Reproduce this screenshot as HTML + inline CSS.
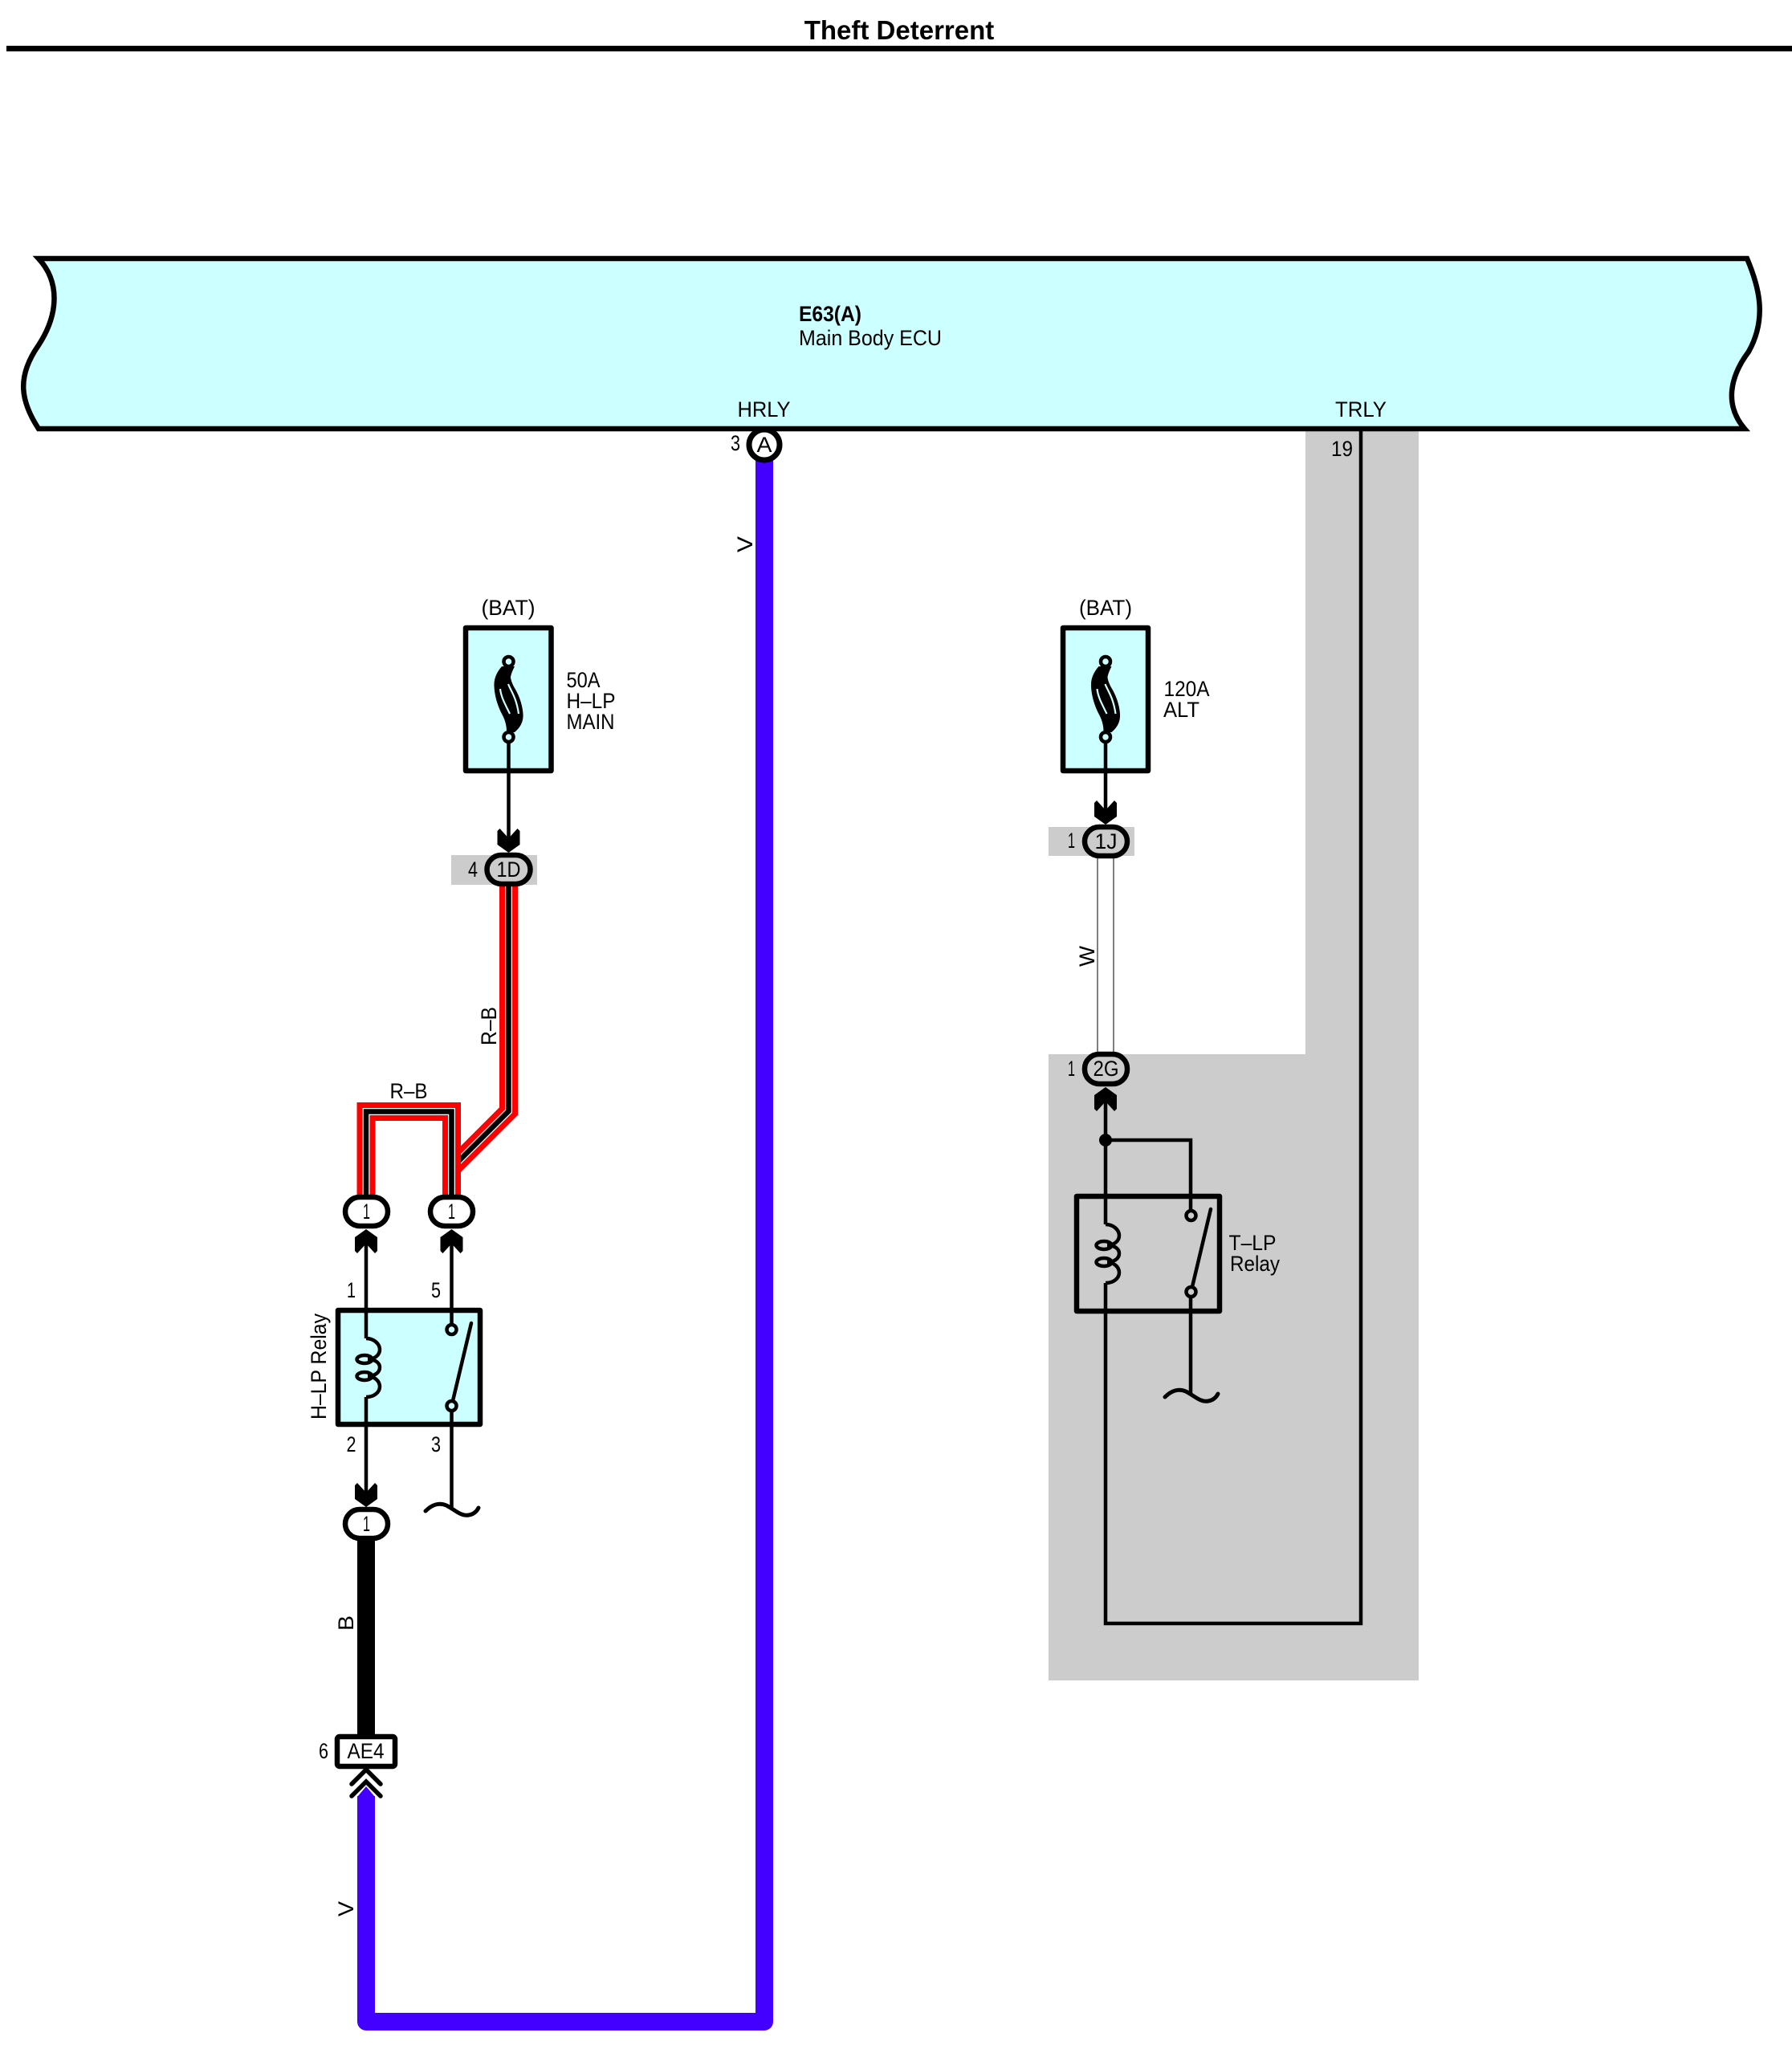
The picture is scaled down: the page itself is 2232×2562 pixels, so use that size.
<!DOCTYPE html>
<html><head><meta charset="utf-8"><style>
html,body{margin:0;padding:0;background:#fff}
svg{display:block}
text{font-family:"Liberation Sans",sans-serif;font-size:27px;fill:#000}
</style></head><body>
<svg xmlns="http://www.w3.org/2000/svg" width="2232" height="2562" viewBox="0 0 2232 2562">
<defs>
<polygon id="arr" points="-14,-27 -11,-30 0,-18 11,-30 14,-27 14,-10 0,0 -14,-10" fill="#000"/>
<g id="fuse">
<path d="M625 830C618 838 615 846 615.5 855C616 867 620 880 626 891C630 899 631 905 631 912L641 912C648 906 651 900 651.5 893C652 885 649 870 641 857C637 850 636 845 636 843C637 838 639 834 641 830Z" fill="#000"/>
<path d="M623 858C624 867 627 873 635 889" fill="none" stroke="#ccffff" stroke-width="2.2"/>
<path d="M633 852C636 860 643 868 646 889" fill="none" stroke="#ccffff" stroke-width="2.2"/>
</g>
<g id="coil" fill="none" stroke="#000" stroke-width="4.5">
<path d="M456 1667C466 1667 473 1674 473 1681C473 1688 466 1693 458 1693"/>
<path d="M458 1693C468 1693 473 1698 473 1703C473 1710 466 1714 458 1714"/>
<path d="M458 1714C466 1714 473 1720 473 1727C473 1734 466 1740 456 1740"/>
<ellipse cx="454" cy="1693" rx="9.5" ry="5"/>
<ellipse cx="454" cy="1714" rx="9.5" ry="5"/>
</g>
</defs>

<text x="1120" y="49" text-anchor="middle" font-weight="bold" style="font-size:33px;font-weight:bold">Theft Deterrent</text>
<line x1="8" y1="60.5" x2="2232" y2="60.5" stroke="#000" stroke-width="7"/>

<!-- grey zone -->
<path d="M1626 536H1767V2093H1306V1313H1626Z" fill="#cccccc"/>
<rect x="562" y="1065" width="107" height="37" fill="#cccccc"/>
<rect x="1306" y="1030" width="107" height="36" fill="#cccccc"/>

<!-- ECU -->
<path d="M48 322L2176 322C2190 355 2202 395 2178 438C2154 470 2148 505 2173 534L48 534C26 500 20 470 48 430C74 390 74 350 48 322Z" fill="#ccffff" stroke="#000" stroke-width="6.5" stroke-linejoin="miter"/>
<text x="995" y="400" textLength="78" lengthAdjust="spacingAndGlyphs" style="font-weight:bold">E63(A)</text>
<text x="995" y="430" textLength="178" lengthAdjust="spacingAndGlyphs">Main Body ECU</text>
<text x="918.5" y="519" textLength="66" lengthAdjust="spacingAndGlyphs">HRLY</text>
<text x="1663" y="519" textLength="64" lengthAdjust="spacingAndGlyphs">TRLY</text>
<text x="910" y="561" textLength="12" lengthAdjust="spacingAndGlyphs">3</text>
<text x="1658" y="568" textLength="27" lengthAdjust="spacingAndGlyphs">19</text>

<!-- purple wire -->
<path d="M952 570V2518H456V2237" fill="none" stroke="#4400ff" stroke-width="22" stroke-linejoin="round"/>
<polygon points="445,2238 456,2225 467,2238" fill="#4400ff"/>
<circle cx="952" cy="554" r="19" fill="#fff" stroke="#000" stroke-width="7"/>
<text x="952" y="563" text-anchor="middle" textLength="19" lengthAdjust="spacingAndGlyphs">A</text>
<text transform="translate(937,688) rotate(-90)" textLength="20" lengthAdjust="spacingAndGlyphs">V</text>

<!-- left fuse -->
<text x="599.5" y="766" textLength="67" lengthAdjust="spacingAndGlyphs">(BAT)</text>
<rect x="580" y="782" width="106.5" height="178" fill="#ccffff" stroke="#000" stroke-width="6.5" stroke-linejoin="round"/>
<use href="#fuse"/>
<circle cx="633.5" cy="824" r="6" fill="#ccffff" stroke="#000" stroke-width="4.5"/>
<line x1="633.5" y1="924" x2="633.5" y2="1050" stroke="#000" stroke-width="4.5"/>
<circle cx="633.5" cy="918" r="6" fill="#ccffff" stroke="#000" stroke-width="4.5"/>
<text x="705.5" y="856" textLength="42" lengthAdjust="spacingAndGlyphs">50A</text>
<text x="705.5" y="882" textLength="61" lengthAdjust="spacingAndGlyphs">H–LP</text>
<text x="705.5" y="908" textLength="60" lengthAdjust="spacingAndGlyphs">MAIN</text>
<use href="#arr" transform="translate(633.5,1062)"/>

<!-- R-B wire diagonal -->
<g fill="none" stroke-linejoin="miter">
<path d="M633.5 1090V1384L562.5 1455" stroke="#ff0000" stroke-width="23"/>
<path d="M633.5 1090V1384L562.5 1455" stroke="#fff" stroke-width="9"/>
<path d="M633.5 1090V1384L562.5 1455" stroke="#000" stroke-width="6.5"/>
<path d="M456 1505V1384.5H562.5V1505" stroke="#ff0000" stroke-width="23"/>
<path d="M456 1505V1384.5H562.5V1505" stroke="#fff" stroke-width="9"/>
<path d="M456 1505V1384.5H562.5V1505" stroke="#000" stroke-width="6.5"/>
</g>
<rect x="606.5" y="1065" width="54" height="36" rx="18" fill="#cccccc" stroke="#000" stroke-width="6.5"/>
<text x="583" y="1092" textLength="12" lengthAdjust="spacingAndGlyphs">4</text>
<text x="633.5" y="1092" text-anchor="middle" textLength="30" lengthAdjust="spacingAndGlyphs">1D</text>
<text transform="translate(618,1302) rotate(-90)" textLength="48" lengthAdjust="spacingAndGlyphs">R–B</text>
<text x="485.5" y="1368" textLength="47" lengthAdjust="spacingAndGlyphs">R–B</text>

<!-- upper connectors 1 -->
<rect x="430" y="1491" width="53" height="36" rx="18" fill="#fff" stroke="#000" stroke-width="6.5"/>
<rect x="536" y="1491" width="53" height="36" rx="18" fill="#fff" stroke="#000" stroke-width="6.5"/>
<text x="456.5" y="1518" text-anchor="middle" textLength="9" lengthAdjust="spacingAndGlyphs">1</text>
<text x="562.5" y="1518" text-anchor="middle" textLength="9" lengthAdjust="spacingAndGlyphs">1</text>
<use href="#arr" transform="translate(456,1531) scale(1,-1)"/>
<use href="#arr" transform="translate(562.5,1531) scale(1,-1)"/>

<!-- H-LP relay -->
<rect x="421" y="1632" width="177" height="142" fill="#ccffff" stroke="#000" stroke-width="6.5" stroke-linejoin="round"/>
<g stroke="#000" stroke-width="4.5" fill="none">
<line x1="456" y1="1545" x2="456" y2="1667"/>
<line x1="456" y1="1740" x2="456" y2="1865"/>
<line x1="562.5" y1="1545" x2="562.5" y2="1650"/>
<line x1="562.5" y1="1757" x2="562.5" y2="1880"/>
<line x1="562.5" y1="1751" x2="587" y2="1648" stroke-linecap="round"/>
<path d="M530 1882C538 1874 547 1871 556 1875C566 1880 574 1889 584 1887C590 1886 594 1882 596 1878" stroke-linecap="round" stroke-width="5"/>
</g>
<use href="#coil"/>
<circle cx="562.5" cy="1656" r="6" fill="#ccffff" stroke="#000" stroke-width="4.5"/>
<circle cx="562.5" cy="1751" r="6" fill="#ccffff" stroke="#000" stroke-width="4.5"/>
<text x="432" y="1616" textLength="11" lengthAdjust="spacingAndGlyphs">1</text>
<text x="537" y="1616" textLength="12" lengthAdjust="spacingAndGlyphs">5</text>
<text x="431.5" y="1808" textLength="12" lengthAdjust="spacingAndGlyphs">2</text>
<text x="537" y="1808" textLength="12" lengthAdjust="spacingAndGlyphs">3</text>
<text transform="translate(406,1768) rotate(-90)" textLength="132" lengthAdjust="spacingAndGlyphs">H–LP Relay</text>

<use href="#arr" transform="translate(456,1877)"/>
<rect x="445" y="1915" width="22" height="250" fill="#000"/>
<rect x="430" y="1880" width="53" height="36" rx="18" fill="#fff" stroke="#000" stroke-width="6.5"/>
<text x="456.5" y="1907" text-anchor="middle" textLength="9" lengthAdjust="spacingAndGlyphs">1</text>
<text transform="translate(440,2031) rotate(-90)" textLength="19" lengthAdjust="spacingAndGlyphs">B</text>
<rect x="420" y="2163" width="72" height="37" rx="3" fill="#fff" stroke="#000" stroke-width="6.5"/>
<text x="432.5" y="2190" textLength="46" lengthAdjust="spacingAndGlyphs">AE4</text>
<text x="397" y="2190" textLength="12" lengthAdjust="spacingAndGlyphs">6</text>
<g fill="none" stroke="#000" stroke-width="5.5" stroke-linecap="round">
<polyline points="438,2222 456,2204 474,2222"/>
<polyline points="438,2237 456,2219 474,2237"/>
</g>
<text transform="translate(440,2387) rotate(-90)" textLength="19" lengthAdjust="spacingAndGlyphs">V</text>

<!-- right fuse -->
<text x="1344" y="766" textLength="66" lengthAdjust="spacingAndGlyphs">(BAT)</text>
<rect x="1324" y="782" width="106" height="178" fill="#ccffff" stroke="#000" stroke-width="6.5" stroke-linejoin="round"/>
<use href="#fuse" transform="translate(743.5,0)"/>
<circle cx="1377" cy="824" r="6" fill="#ccffff" stroke="#000" stroke-width="4.5"/>
<line x1="1377" y1="924" x2="1377" y2="1015" stroke="#000" stroke-width="4.5"/>
<circle cx="1377" cy="918" r="6" fill="#ccffff" stroke="#000" stroke-width="4.5"/>
<text x="1449.5" y="867" textLength="57" lengthAdjust="spacingAndGlyphs">120A</text>
<text x="1449" y="893" textLength="45" lengthAdjust="spacingAndGlyphs">ALT</text>
<use href="#arr" transform="translate(1377,1027)"/>

<!-- W wire -->
<rect x="1367" y="1066" width="20" height="247" fill="#fff" stroke="#555" stroke-width="1.5"/>
<rect x="1351" y="1030" width="53" height="36" rx="18" fill="#cccccc" stroke="#000" stroke-width="6.5"/>
<text x="1330" y="1056" textLength="9" lengthAdjust="spacingAndGlyphs">1</text>
<text x="1377.5" y="1057" text-anchor="middle" textLength="28" lengthAdjust="spacingAndGlyphs">1J</text>
<text transform="translate(1363,1204) rotate(-90)" textLength="26" lengthAdjust="spacingAndGlyphs">W</text>
<rect x="1351" y="1313" width="53" height="37" rx="18" fill="#cccccc" stroke="#000" stroke-width="6.5"/>
<text x="1330" y="1340" textLength="9" lengthAdjust="spacingAndGlyphs">1</text>
<text x="1377.5" y="1340" text-anchor="middle" textLength="32" lengthAdjust="spacingAndGlyphs">2G</text>
<use href="#arr" transform="translate(1377,1354) scale(1,-1)"/>

<!-- T-LP relay -->
<rect x="1341" y="1490" width="178" height="143" fill="none" stroke="#000" stroke-width="6.5" stroke-linejoin="round"/>
<g stroke="#000" stroke-width="4.5" fill="none">
<path d="M1483 1508V1420H1377V1525"/>
<line x1="1377" y1="1365" x2="1377" y2="1420"/>
<path d="M1377 1598V2022H1695V534"/>
<line x1="1483" y1="1615" x2="1483" y2="1738"/>
<line x1="1483.5" y1="1609" x2="1508" y2="1506" stroke-linecap="round"/>
<path d="M1451 1740C1459 1732 1468 1729 1477 1733C1487 1738 1495 1747 1505 1745C1511 1744 1515 1740 1517 1736" stroke-linecap="round" stroke-width="5"/>
</g>
<use href="#coil" transform="translate(921,-142)"/>
<circle cx="1377" cy="1420" r="8" fill="#000"/>
<circle cx="1483.5" cy="1514" r="6" fill="#cccccc" stroke="#000" stroke-width="4.5"/>
<circle cx="1483.5" cy="1609" r="6" fill="#cccccc" stroke="#000" stroke-width="4.5"/>
<text x="1530.5" y="1557" textLength="59" lengthAdjust="spacingAndGlyphs">T–LP</text>
<text x="1532" y="1583" textLength="62" lengthAdjust="spacingAndGlyphs">Relay</text>
</svg>
</body></html>
